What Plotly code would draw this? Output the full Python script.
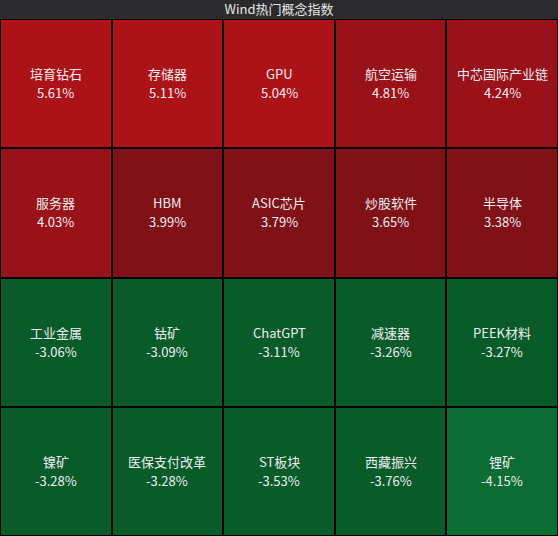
import plotly.graph_objects as go

title = "Wind热门概念指数"
names = [
    ["培育钻石", "存储器", "GPU", "航空运输", "中芯国际产业链"],
    ["服务器", "HBM", "ASIC芯片", "炒股软件", "半导体"],
    ["工业金属", "钴矿", "ChatGPT", "减速器", "PEEK材料"],
    ["镍矿", "医保支付改革", "ST板块", "西藏振兴", "锂矿"],
]
changes = [
    [5.61, 5.11, 5.04, 4.81, 4.24],
    [4.03, 3.99, 3.79, 3.65, 3.38],
    [-3.06, -3.09, -3.11, -3.26, -3.27],
    [-3.28, -3.28, -3.53, -3.76, -4.15],
]

zmin, zmax = -5, 6
def pos(v):
    return (v - zmin) / (zmax - zmin)

g1, g2 = "#0d6b34", "#0a5b2a"
r1, r2, r3 = "#801117", "#991119", "#ab1319"
cs = [
    [0, g1], [pos(-4), g1],
    [pos(-4), g2], [pos(0), g2],
    [pos(0), r1], [pos(4), r1],
    [pos(4), r2], [pos(5), r2],
    [pos(5), r3], [1, r3],
]

fig = go.Figure(go.Heatmap(
    z=changes,
    colorscale=cs, zmin=zmin, zmax=zmax,
    showscale=False, xgap=2, ygap=2, hoverinfo="skip",
))

font = dict(family="Noto Sans CJK SC", size=13, color="#eeeeee")
for i, (rn, rv) in enumerate(zip(names, changes)):
    for j, (n, v) in enumerate(zip(rn, rv)):
        fig.add_annotation(x=j, y=i, text=n, showarrow=False, yshift=10,
                           font=font, xanchor="center", yanchor="middle")
        fig.add_annotation(x=j, y=i, text=f"{v:.2f}%", showarrow=False, yshift=-9,
                           font=font, xanchor="center", yanchor="middle")

fig.update_layout(
    width=558, height=536,
    margin=dict(l=0, r=0, t=19, b=0),
    paper_bgcolor="#2b2b2d", plot_bgcolor="#000000",
    title=dict(text=title, x=0.5, xanchor="center", y=1 - 9.5 / 536, yanchor="middle",
               font=dict(family="Noto Sans CJK SC", size=13, color="#e6e6e6")),
    xaxis=dict(visible=False, range=[-0.5, 4.5], fixedrange=True),
    yaxis=dict(visible=False, range=[3.5, -0.5], fixedrange=True),
)
fig.write_html("out.html")
